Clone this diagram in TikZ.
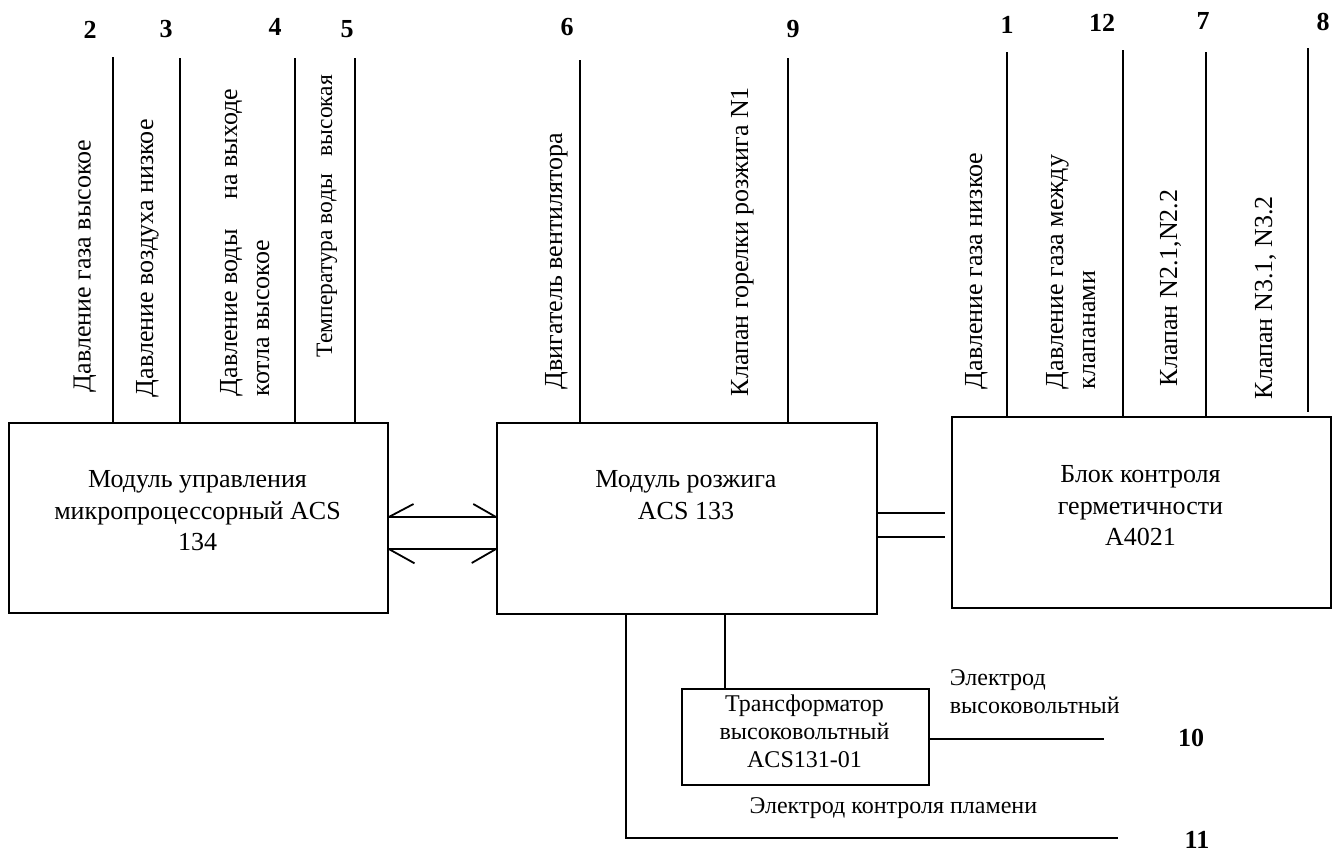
\documentclass[tikz,border=0pt]{standalone}
\usepackage{fontspec}
\setmainfont{Liberation Serif}
\begin{document}
\begin{tikzpicture}[x=1pt,y=-1pt,
  line width=1.8pt,
  box/.style={draw, line width=1.8pt, inner sep=0pt},
  num/.style={font=\fontsize{26}{30}\selectfont\bfseries, inner sep=0pt, anchor=base},
  vlab/.style={font=\fontsize{26}{31}\selectfont, inner sep=0pt, rotate=90, anchor=base west},
  btxt/.style={font=\fontsize{26}{31.5}\selectfont, inner sep=0pt, align=center, anchor=north},
  stxt/.style={font=\fontsize{24}{28}\selectfont, inner sep=0pt},
]
\useasboundingbox (0,0) rectangle (1340,852);

% boxes
\node[box, minimum width=379pt, minimum height=190pt, anchor=north west] (A) at (8,422) {};
\node[box, minimum width=380pt, minimum height=191pt, anchor=north west] (B) at (496,422) {};
\node[box, minimum width=379pt, minimum height=191pt, anchor=north west] (C) at (951,416) {};
\node[box, minimum width=247pt, minimum height=96pt, anchor=north west] (T) at (681,688) {};

% box texts
\node[btxt] (At) at (197.5,469.8) {Модуль управления\\микропроцессорный ACS\\134};
\node[btxt] (Bt) at (686,469.8) {Модуль розжига\\ACS 133};
\node[btxt] (Ct) at (1140.5,464.8) {Блок контроля\\герметичности\\A4021};
\node[stxt, align=center, anchor=north] (Tt) at (804.5,693.6) {Трансформатор\\высоковольтный\\ACS131-01};

% numbers
\node[num] (n2) at (90,38) {2};
\node[num] (n3) at (166,37) {3};
\node[num] (n4) at (275,35) {4};
\node[num] (n5) at (347,37) {5};
\node[num] (n6) at (567,35) {6};
\node[num] (n9) at (793,37) {9};
\node[num] (n1) at (1007,33) {1};
\node[num] (n12) at (1102,31) {12};
\node[num] (n7) at (1203,29) {7};
\node[num] (n8) at (1323,30) {8};
\node[num] (n10) at (1191,746) {10};
\node[num] (n11) at (1197,848) {11};

% vertical labels
\node[vlab] (l2) at (90.5,393) {Давление газа высокое};
\node[vlab] (l3) at (153,398) {Давление воздуха низкое};
\node[vlab] (l4a) at (237,397) {Давление воды\hspace{30pt}на выходе};
\node[vlab] (l4b) at (269,397) {котла высокое};
\node[vlab, font=\fontsize{23.5}{29}\selectfont] (l5) at (332,358) {Температура воды\hspace{18pt}высокая};
\node[vlab] (l6) at (562,390) {Двигатель вентилятора};
\node[vlab] (l9) at (748,397) {Клапан горелки розжига N1};
\node[vlab] (l1) at (982,390) {Давление газа низкое};
\node[vlab] (l12a) at (1063,390) {Давление газа между};
\node[vlab] (l12b) at (1095,390) {клапанами};
\node[vlab] (l7) at (1177,387) {Клапан N2.1,N2.2};
\node[vlab] (l8) at (1272,400) {Клапан N3.1, N3.2};

% other texts
\node[stxt, align=left, anchor=north west] (E1) at (949,669.1) {Электрод\\высоковольтный};
\node[stxt, anchor=base east] (E2) at (1038,813) {Электрод контроля пламени};

% top wires
\coordinate (t2) at (113,57);
\coordinate (t3) at (180,58);
\coordinate (t4) at (295,58);
\coordinate (t5) at (355,58);
\coordinate (t6) at (580,60);
\coordinate (t9) at (788,58);
\coordinate (t1) at (1007,52);
\coordinate (t12) at (1123,50);
\coordinate (t7) at (1206,52);
\coordinate (t8) at (1308,48);
\coordinate (t8b) at (1308,412);
\foreach \p in {t2,t3,t4,t5} \draw (\p) -- (\p |- A.north);
\foreach \p in {t6,t9} \draw (\p) -- (\p |- B.north);
\foreach \p in {t1,t12,t7} \draw (\p) -- (\p |- C.north);
\draw (t8) -- (t8b);

% link A <-> B
\coordinate (ya) at (0,517);
\coordinate (yb) at (0,549);
\draw (A.east |- ya) -- (B.west |- ya);
\draw (A.east |- ya) -- ++(24.7,-13);
\draw (B.west |- ya) -- ++(-22.7,-13);
\draw (A.east |- yb) -- (B.west |- yb);
\draw (A.east |- yb) -- ++(25.7,14.3);
\draw (B.west |- yb) -- ++(-24.3,14);

% link B - C
\coordinate (yc) at (945,513);
\coordinate (yd) at (945,537);
\draw (B.east |- yc) -- (yc);
\draw (B.east |- yd) -- (yd);

% bottom
\coordinate (tx) at (725,0);
\draw (B.south -| tx) -- (T.north -| tx);
\coordinate (fx) at (626,838);
\coordinate (fend) at (1118,838);
\draw (B.south -| fx) -- (fx) -- (fend);
\coordinate (hvend) at (1104,739);
\draw (T.east |- hvend) -- (hvend);
\end{tikzpicture}
\end{document}
